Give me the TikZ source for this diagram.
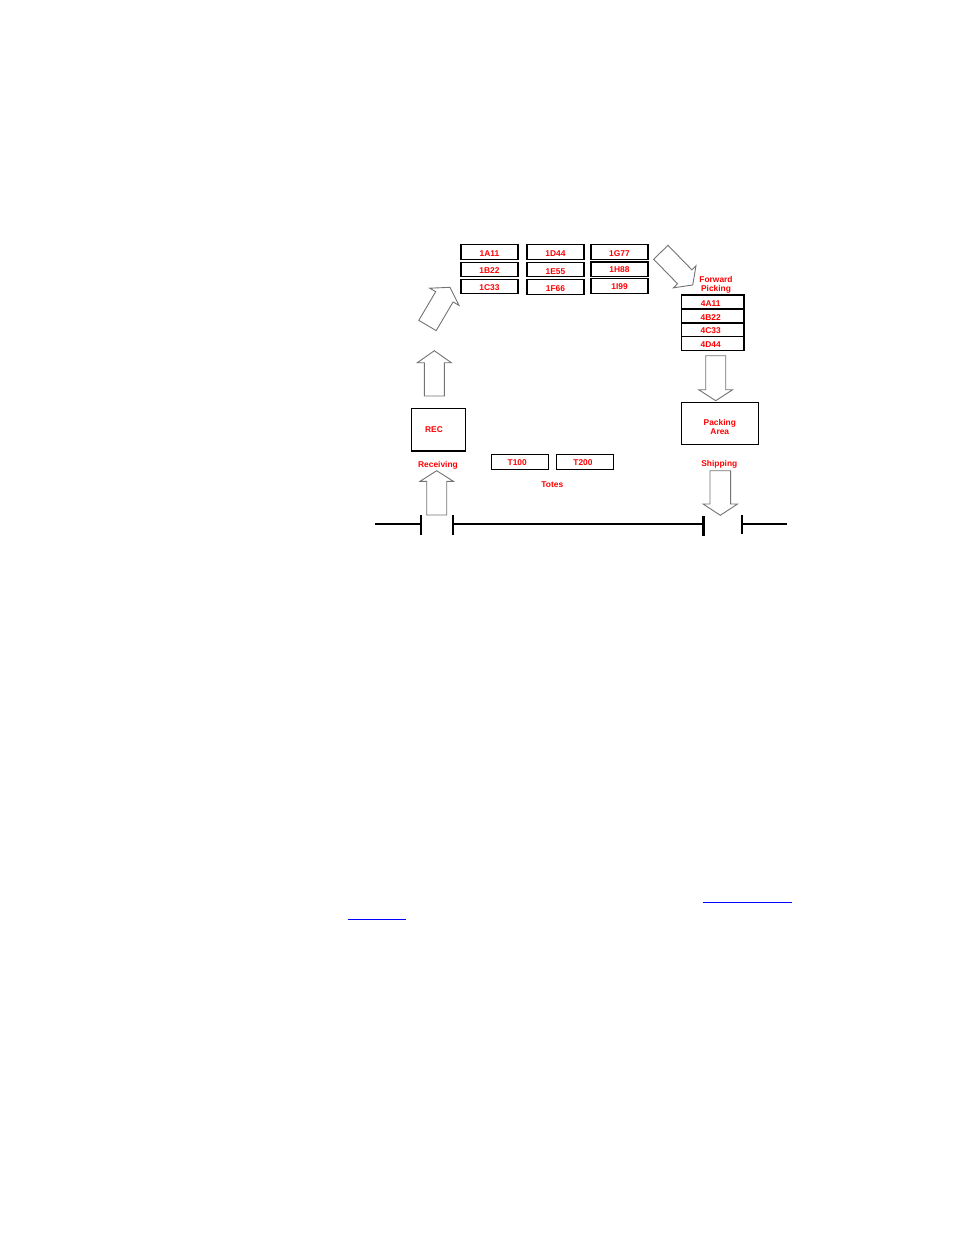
\documentclass[tikz,border=0pt]{standalone}
\usepackage{fontspec}
\setmainfont{Liberation Sans}
\begin{document}
\begin{tikzpicture}[x=1pt,y=-1pt,
  bigbox/.style={draw=black,line width=1.15pt,inner sep=0pt,font=\fontsize{8.4}{9}\selectfont\bfseries,text=red},
  box/.style={bigbox,text height=8pt,text depth=0pt},
  lbl/.style={inner sep=0pt,font=\fontsize{8.4}{9}\selectfont\bfseries,text=red,align=center},
  blk/.style={draw=black!55,line width=0.9pt,fill=white,line join=miter},
  wall/.style={line width=2.4pt,black},
  link/.style={line width=1pt,draw={rgb,255:red,0;green,0;blue,255}}]
\useasboundingbox (0,0) rectangle (954,1235);
\newcommand\blkarrow[8]{% x y angle L sw hw hl name
  \begin{scope}[shift={(#1,#2)},rotate=#3]
    \draw[blk] (0,-#5/2) -- (#4-#7,-#5/2) -- (#4-#7,-#6/2) -- (#4,0) coordinate (#8) -- (#4-#7,#6/2) -- (#4-#7,#5/2) -- (0,#5/2) -- cycle;
  \end{scope}}
% storage boxes
\node[box,minimum width=57pt,minimum height=14.5pt] (a11) at (489.5,252) {1A11};
\node[box,minimum width=57pt,minimum height=14.5pt] (b22) at (489.5,269.5) {1B22};
\node[box,minimum width=57pt,minimum height=14.5pt] (c33) at (489.5,286.5) {1C33};
\node[box,minimum width=57pt,minimum height=14.5pt] (d44) at (555.5,252) {1D44};
\node[box,minimum width=57pt,minimum height=14.5pt,text height=9pt] (e55) at (555.5,269.5) {1E55};
\node[box,minimum width=57pt,minimum height=14.5pt] (f66) at (555.5,287) {1F66};
\node[box,minimum width=57pt,minimum height=14.5pt] (g77) at (619.5,252) {1G77};
\node[box,minimum width=57pt,minimum height=14.5pt,text height=6.5pt] (h88) at (619.5,269.3) {1H88};
\node[box,minimum width=57pt,minimum height=14.5pt,text height=6.5pt] (i99) at (619.5,286) {1I99};
% forward picking
\node[lbl] (fwd) at (716,285) {Forward\\Picking};
\node[box,minimum width=62.7pt,minimum height=14pt] (fa) at (712.7,302) {\hspace*{-4pt}4A11};
\node[box,minimum width=62.7pt,minimum height=14pt] (fb) at (712.7,316) {\hspace*{-4pt}4B22};
\node[box,minimum width=62.7pt,minimum height=13.7pt] (fc) at (712.7,329.7) {\hspace*{-4pt}4C33};
\node[box,minimum width=62.7pt,minimum height=14pt] (fd) at (712.7,343.7) {\hspace*{-4pt}4D44};
% packing
\node[bigbox,minimum width=77pt,minimum height=42pt,align=center] (pack) at (719.8,423.3) {\rule{0pt}{14pt}Packing\\Area};
\node[lbl] (ship) at (719.3,464.3) {Shipping};
% receiving
\node[box,minimum width=53.6pt,minimum height=42.7pt,text height=6.5pt] (rec) at (438.5,429.7) {\hspace*{-9pt}REC};
\node[lbl] (recv) at (438,465.5) {Receiving};
% totes
\node[box,minimum width=57pt,minimum height=14.6pt,text height=6.5pt] (t100) at (520.2,462) {\hspace*{-6pt}T100};
\node[box,minimum width=56.6pt,minimum height=14.6pt,text height=6.5pt] (t200) at (585,462) {\hspace*{-4pt}T200};
\node[lbl] (totes) at (552.3,484.3) {Totes};
% block arrows
\blkarrow{436.7}{515}{90}{44.3}{20}{33.3}{10.6}{arrA}
\blkarrow{434.3}{396}{90}{45.3}{20}{34}{12}{arrB}
\blkarrow{427.5}{325.5}{59.5}{44.3}{20.2}{34}{11}{arrC}
\blkarrow{660.8}{252.3}{-45.7}{45.7}{20}{31.6}{11.5}{arrD}
\blkarrow{715.7}{355.7}{-90}{45}{20}{34}{11}{arrE}
\blkarrow{720.3}{470.7}{-90}{44.6}{20.7}{34.4}{11.3}{arrF}
% wall with doors
\coordinate (w0) at (375,524);
\coordinate (w1) at (420.7,524);
\coordinate (w2) at (452.7,524);
\coordinate (w3) at (703.3,524);
\coordinate (w4) at (741.7,524);
\coordinate (w5) at (786.7,524);
\draw[wall] (w0) -- (w1);
\draw[wall] (w2) -- (w3);
\draw[wall] (w4) -- (w5);
\draw[wall] ([yshift=-10.7pt]w1) -- ([yshift=8.7pt]w1);
\draw[wall] ([yshift=-10.7pt]w2) -- ([yshift=8.7pt]w2);
\draw[wall] ([yshift=-11.7pt]w3) -- ([yshift=7.7pt]w3);
\draw[wall] ([yshift=-10pt]w4) -- ([yshift=8.7pt]w4);
% link underlines
\coordinate (l1a) at (702.7,902);
\coordinate (l1b) at (791.7,902);
\coordinate (l2a) at (347.7,919.5);
\coordinate (l2b) at (406,919.5);
\draw[link] (l1a) -- (l1b);
\draw[link] (l2a) -- (l2b);
\end{tikzpicture}
\end{document}
